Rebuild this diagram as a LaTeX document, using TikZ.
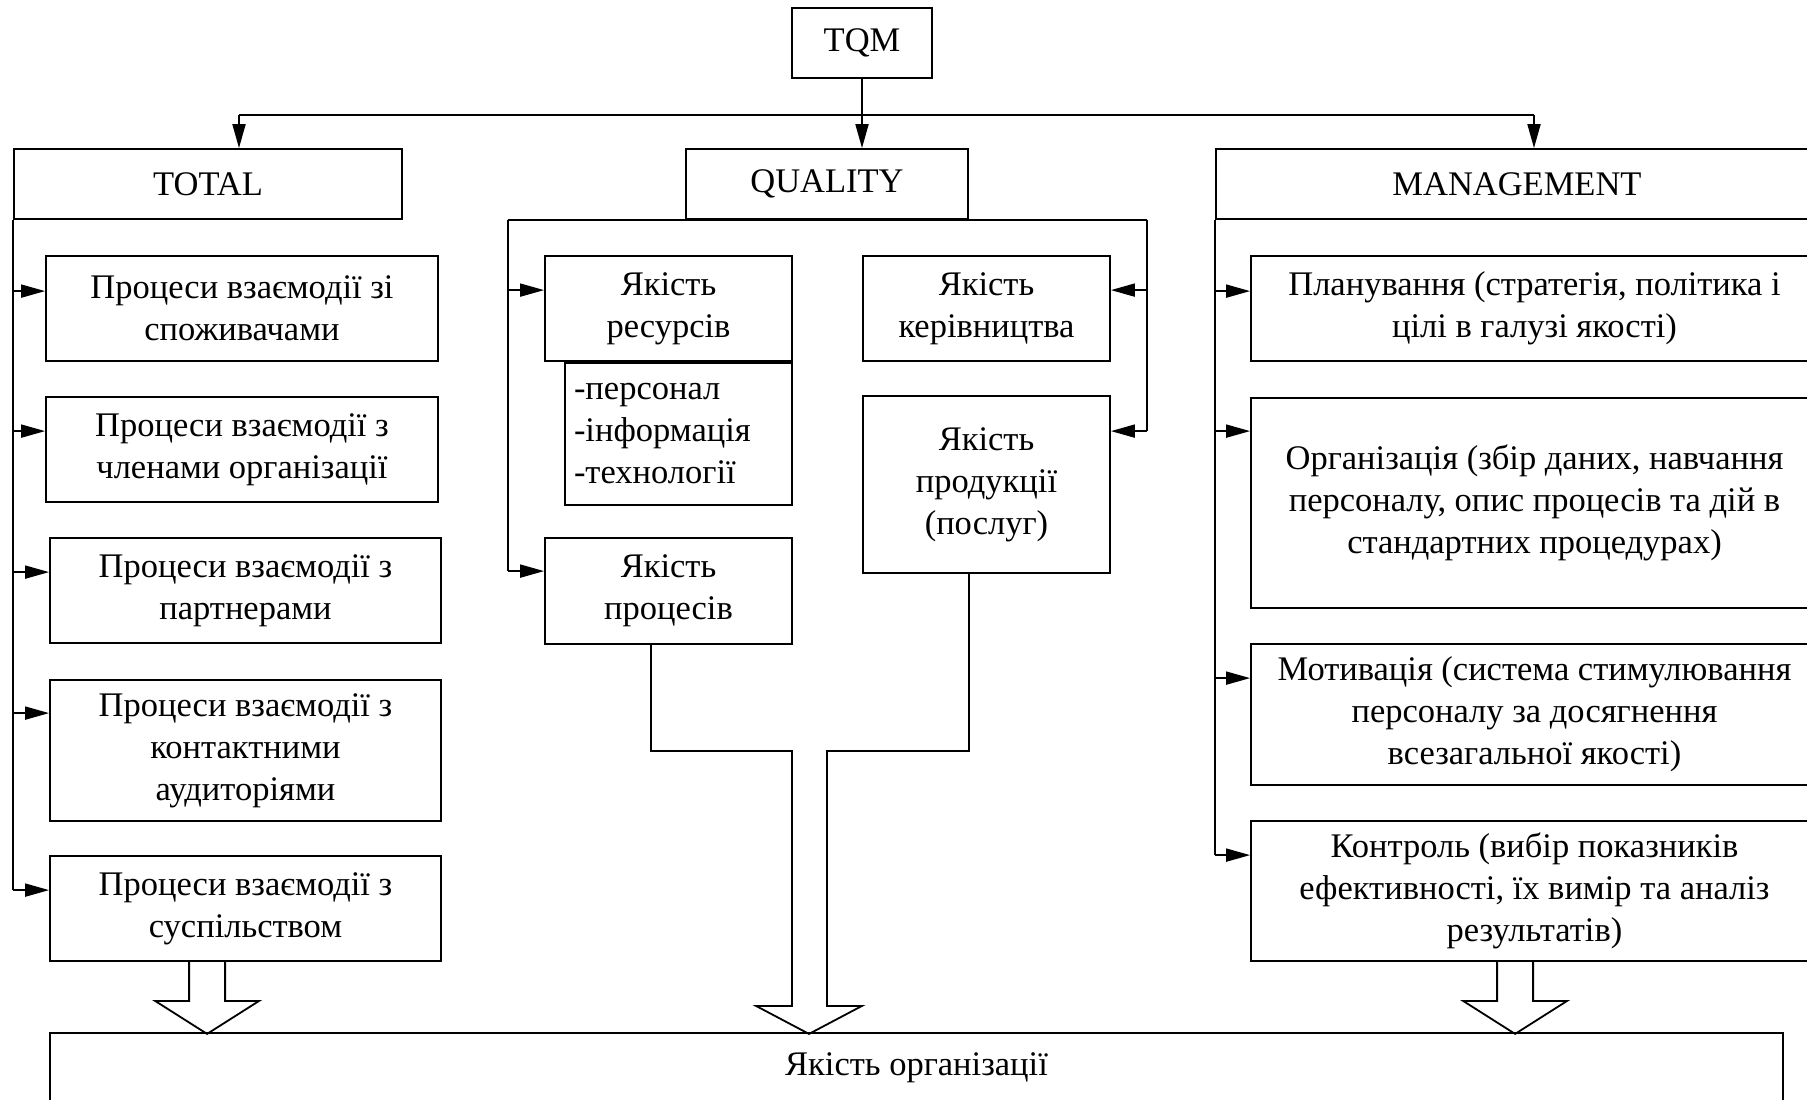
\documentclass[tikz,border=0pt]{standalone}
\usepackage{fontspec}
\setmainfont{Liberation Serif}
\usetikzlibrary{arrows.meta,calc}
\begin{document}
\begin{tikzpicture}[x=1pt,y=-1pt,
  box/.style={draw, line width=1.8pt, inner sep=0pt, align=center, font=\fontsize{34.5}{42}\selectfont},
  ln/.style={line width=1.8pt},
  arr/.style={line width=1.8pt, -{Triangle[length=24pt,width=13pt]}},
  hollow/.style={line width=1.8pt, line join=miter}]
\useasboundingbox (0,0) rectangle (1807,1100);
\clip (0,0) rectangle (1807,1100);
\fill[white] (0,0) rectangle (1807,1100);

% top level
\node[box, minimum width=140pt, minimum height=70pt] (tqm) at (862,43) {TQM};
\node[box, minimum width=388pt, minimum height=70pt] (total) at (208,184) {TOTAL};
\node[box, minimum width=282pt, minimum height=70pt] (quality) at (827,184) {QUALITY};
\node[box, minimum width=602pt, minimum height=70pt] (mgmt) at (1517,184) {MANAGEMENT};

% TOTAL column
\node[box, minimum width=392pt, minimum height=105pt] (t1) at (242,308.5) {Процеси взаємодії зі\\споживачами};
\node[box, minimum width=392pt, minimum height=105pt] (t2) at (242,449.5) {Процеси взаємодії з\\членами організації};
\node[box, minimum width=391pt, minimum height=105pt] (t3) at (245.5,590.5) {Процеси взаємодії з\\партнерами};
\node[box, minimum width=391pt, minimum height=141pt] (t4) at (245.5,750.5) {Процеси взаємодії з\\контактними\\аудиторіями};
\node[box, minimum width=391pt, minimum height=105pt] (t5) at (245.5,908.5) {Процеси взаємодії з\\суспільством};

% QUALITY column
\node[box, minimum width=247pt, minimum height=105pt] (q1) at (668.5,308.5) {Якість\\ресурсів};
\node[box, anchor=north east, text width=209pt, align=left, inner xsep=9pt, minimum height=142pt] (q1l) at (q1.south east) {-персонал\\-інформація\\-технології};
\node[box, minimum width=247pt, minimum height=106pt] (q2) at (668.5,591) {Якість\\процесів};
\node[box, minimum width=247pt, minimum height=105pt] (q3) at (986.5,308.5) {Якість\\керівництва};
\node[box, minimum width=247pt, minimum height=177pt] (q4) at (986.5,484.5) {Якість\\продукції\\(послуг)};

% MANAGEMENT column
\node[box, minimum width=567pt, minimum height=105pt] (m1) at (1534.5,308.5) {Планування (стратегія, політика і\\цілі в галузі якості)};
\node[box, minimum width=567pt, minimum height=210pt] (m2) at (1534.5,503) {Організація (збір даних, навчання\\персоналу, опис процесів та дій в\\стандартних процедурах)};
\node[box, minimum width=567pt, minimum height=141pt] (m3) at (1534.5,714.5) {Мотивація (система стимулювання\\персоналу за досягнення\\всезагальної якості)};
\node[box, minimum width=567pt, minimum height=140pt] (m4) at (1534.5,891) {Контроль (вибір показників\\ефективності, їх вимір та аналіз\\результатів)};

% bottom
\node[box, minimum width=1733pt, minimum height=70pt] (org) at (916.5,1068) {Якість організації};

% TQM connectors
\coordinate (aT) at ([xshift=31pt]total.north);
\coordinate (aM) at ([xshift=17pt]mgmt.north);
\coordinate (bar) at ([yshift=-36pt]tqm.south);
\draw[ln] (aT |- bar) -- (aM |- bar);
\draw[arr] (aT |- bar) -- (aT);
\draw[arr] (aM |- bar) -- (aM);
\draw[arr] (tqm.south) -- (tqm.south |- quality.north);

% TOTAL trunk
\coordinate (t1a) at ([yshift=-36pt]t1.north west);
\coordinate (t2a) at ([yshift=-35pt]t2.north west);
\coordinate (t3a) at ([yshift=-35pt]t3.north west);
\coordinate (t4a) at ([yshift=-34pt]t4.north west);
\coordinate (t5a) at ([yshift=-35pt]t5.north west);
\draw[ln] (total.south west) -- (total.south west |- t5a);
\foreach \n in {t1a,t2a,t3a,t4a,t5a}{\draw[arr] (total.south west |- \n) -- (\n);}

% QUALITY trunks
\coordinate (qL) at ([xshift=-177pt]quality.south west);
\coordinate (qR) at ([xshift=178pt]quality.south east);
\coordinate (q1a) at ([yshift=-35pt]q1.north west);
\coordinate (q2a) at ([yshift=-34pt]q2.north west);
\coordinate (q3a) at ([yshift=-35pt]q3.north east);
\coordinate (q4a) at ([yshift=-36pt]q4.north east);
\draw[ln] (qL) -- (qR);
\draw[ln] (qL) -- (qL |- q2a);
\draw[ln] (qR) -- (qR |- q4a);
\draw[arr] (qL |- q1a) -- (q1a);
\draw[arr] (qL |- q2a) -- (q2a);
\draw[arr] (qR |- q3a) -- (q3a);
\draw[arr] (qR |- q4a) -- (q4a);

% MANAGEMENT trunk
\coordinate (m1a) at ([yshift=-36pt]m1.north west);
\coordinate (m2a) at ([yshift=-34pt]m2.north west);
\coordinate (m3a) at ([yshift=-35pt]m3.north west);
\coordinate (m4a) at ([yshift=-35pt]m4.north west);
\draw[ln] (mgmt.south west) -- (mgmt.south west |- m4a);
\foreach \n in {m1a,m2a,m3a,m4a}{\draw[arr] (mgmt.south west |- \n) -- (\n);}

% hollow arrows
\coordinate (hl) at ([xshift=140pt]t5.south west);
\draw[hollow] (hl) -- ++(0,39) -- ++(-34,0) -- ++(52,33) -- ++(52,-33) -- ++(-34,0) -- ++(0,-39);
\coordinate (hr) at ([xshift=247pt]m4.south west);
\draw[hollow] (hr) -- ++(0,39) -- ++(-34,0) -- ++(52,33) -- ++(52,-33) -- ++(-34,0) -- ++(0,-39);
\coordinate (cl) at ([xshift=-17.5pt]q2.south);
\coordinate (cr) at ([xshift=-17.5pt]q4.south);
\draw[hollow] (cl) -- ++(0,106) -- ++(141,0) -- ++(0,255) -- ++(-36,0) -- ++(53,28) -- ++(53,-28) -- ++(-35,0) -- ++(0,-255) -- ++(142,0) -- (cr);
\end{tikzpicture}
\end{document}
